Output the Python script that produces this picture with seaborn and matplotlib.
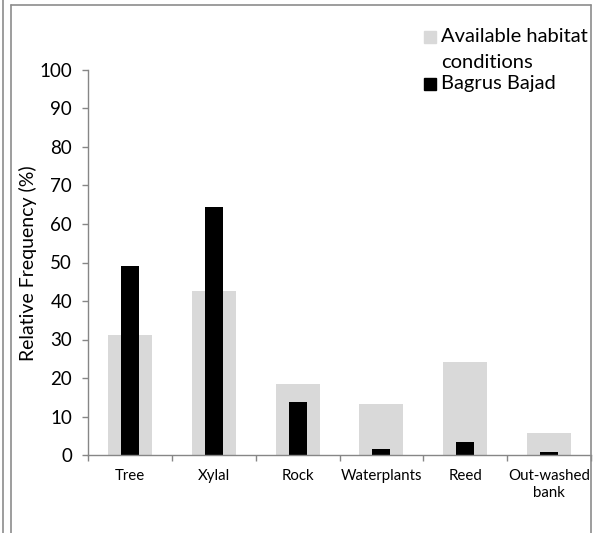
import matplotlib
matplotlib.use("Agg")
import matplotlib.pyplot as plt
from matplotlib.lines import Line2D
from matplotlib.patches import Rectangle
import seaborn as sns
import pandas as pd

categories = ["Tree", "Xylal", "Rock", "Waterplants", "Reed", "Out-washed\nbank"]
available = [31.2, 42.7, 18.4, 13.2, 24.2, 5.7]
bagrus = [49.1, 64.5, 13.8, 1.6, 3.3, 0.8]
series_lines = [["Available habitat", "conditions"], ["Bagrus Bajad"]]
yticks = list(range(0, 101, 10))

sns.set_theme(style="white")
plt.rcParams["font.family"] = ["Lato", "DejaVu Sans"]
plt.rcParams["text.color"] = "black"
plt.rcParams["xtick.color"] = "black"
plt.rcParams["ytick.color"] = "black"

W, H = 595, 533
fig = plt.figure(figsize=(W / 100, H / 100), dpi=100)
ax = fig.add_axes([88 / W, 1 - 455 / H, (591 - 88) / W, (455 - 70) / H])

df = pd.DataFrame({"cat": categories, "avail": available, "bag": bagrus})
grey = "#D9D9D9"
sns.barplot(data=df, x="cat", y="avail", color=grey, width=0.524, ax=ax,
            saturation=1, linewidth=0, order=categories)
sns.barplot(data=df, x="cat", y="bag", color="black", width=0.214, ax=ax,
            saturation=1, linewidth=0, order=categories)

ax.set_xlim(-0.5, len(categories) - 0.5)
ax.set_ylim(0, 100)
ax.set_yticks(yticks)
ax.set_xlabel("")
ax.set_ylabel("")
for s in ["top", "right"]:
    ax.spines[s].set_visible(False)
for s in ["left", "bottom"]:
    ax.spines[s].set_color("#868686")
    ax.spines[s].set_linewidth(1)

ax.tick_params(axis="y", which="major", direction="out", length=4.5, width=1,
               color="#868686", labelcolor="black", labelsize=13.5, pad=7, left=True)
ax.set_xticks(range(len(categories)))
ax.set_xticklabels(categories, fontsize=10.8, linespacing=1.3)
ax.tick_params(axis="x", which="major", length=0, pad=10, labelcolor="black")
ax.set_xticks([i - 0.5 for i in range(len(categories) + 1)], minor=True)
ax.tick_params(axis="x", which="minor", direction="out", length=4, width=1,
               color="#868686", bottom=True)

fig.text(28 / W, 1 - 263 / H, "Relative Frequency (%)", rotation=90,
         ha="center", va="center", fontsize=14)

# legend (drawn manually in figure pixels)
def fx(x):
    return x / W

def fy(y):
    return 1 - y / H

fig.patches.append(Rectangle((fx(424), fy(43)), 12 / W, 12 / H, color=grey,
                             transform=fig.transFigure, figure=fig))
fig.patches.append(Rectangle((fx(424), fy(90)), 12 / W, 12 / H, color="black",
                             transform=fig.transFigure, figure=fig))
fig.text(fx(441), fy(37), series_lines[0][0], ha="left", va="center", fontsize=14.5)
fig.text(fx(441), fy(62), series_lines[0][1], ha="left", va="center", fontsize=14.5)
fig.text(fx(441), fy(84), series_lines[1][0], ha="left", va="center", fontsize=14.5)

# outer frame lines
bc = "#8C8C8C"
fig.add_artist(Line2D([fx(3), fx(3)], [0, 1], color=bc, lw=1.2, transform=fig.transFigure))
fig.add_artist(Line2D([fx(11), fx(11)], [0, fy(5)], color=bc, lw=1.2, transform=fig.transFigure))
fig.add_artist(Line2D([fx(11), fx(591)], [fy(5), fy(5)], color=bc, lw=1.2, transform=fig.transFigure))
fig.add_artist(Line2D([fx(591), fx(591)], [0, fy(5)], color=bc, lw=1.2, transform=fig.transFigure))

fig.savefig("out.png", dpi=100)
